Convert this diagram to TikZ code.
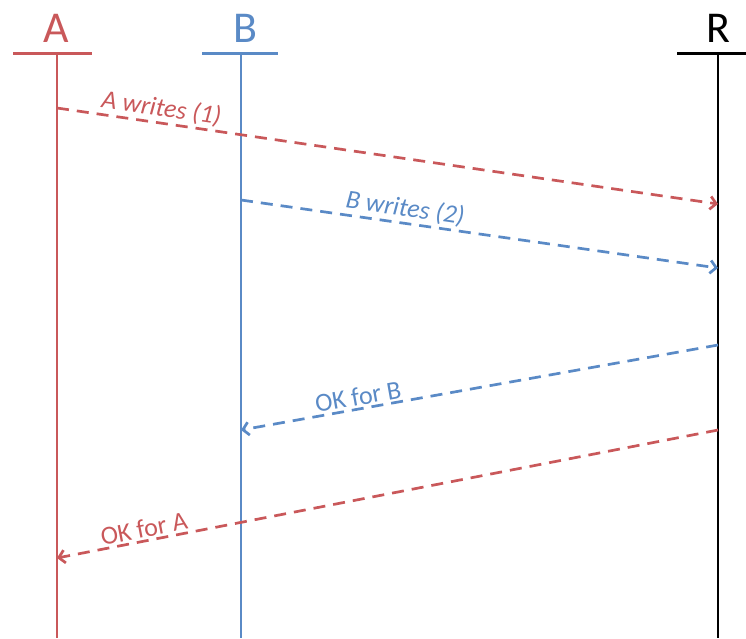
\documentclass[tikz,border=0pt]{standalone}
\usepackage{fontspec}
\setmainfont{Carlito}
\usetikzlibrary{arrows.meta}
\definecolor{procred}{HTML}{C9585A}
\definecolor{procblue}{HTML}{5A8AC6}

\begin{document}
\begin{tikzpicture}[x=1pt, y=-1pt,
  hdr/.style={font=\fontsize{44}{44}\selectfont, anchor=base, inner sep=0pt},
  bar/.style={line width=3pt},
  life/.style={line width=2.7pt},
  msg/.style={dash pattern=on 12pt off 8pt, line width=2.7pt, -{Straight Barb[length=6pt,width=13pt]}},
  lbl/.style={font=\fontsize{26}{26}\selectfont, sloped, above, inner sep=2pt}]
\useasboundingbox (0,0) rectangle (746,638);
% participants
\node[hdr, text=procred] (A) at (56,42) {A};
\node[hdr, text=procblue] (B) at (245,42) {B};
\node[hdr] (R) at (718,42) {R};
\draw[bar, procred] (13,53) -- (92,53);
\draw[bar, procblue] (202,53) -- (278,53);
\draw[bar] (677,53) -- (746,53);
\coordinate (Atop) at (57,53);  \coordinate (Abot) at (57,638);
\coordinate (Btop) at (241,53); \coordinate (Bbot) at (241,638);
\coordinate (Rtop) at (718,53); \coordinate (Rbot) at (718,638);
\draw[life, procred] (Atop) -- (Abot);
\draw[life, procblue] (Btop) -- (Bbot);
\draw[life] (Rtop) -- (Rbot);
% messages
\coordinate (a1) at (57,108);  \coordinate (r1) at (718,204);
\coordinate (b2) at (241,200); \coordinate (r2) at (718,268);
\coordinate (r3) at (718,345); \coordinate (b3) at (241,430);
\coordinate (r4) at (718,430); \coordinate (a4) at (57,558);
\draw[msg, procred] (a1) -- node[lbl, pos=.155] {\itshape A writes (1)} (r1);
\draw[msg, procblue] (b2) -- node[lbl, pos=.34] {\itshape B writes (2)} (r2);
\draw[msg, procblue] (r3) -- node[lbl, pos=.75] {OK for B} (b3);
\draw[msg, procred] (r4) -- node[lbl, pos=.865] {OK for A} (a4);
\end{tikzpicture}
\end{document}
